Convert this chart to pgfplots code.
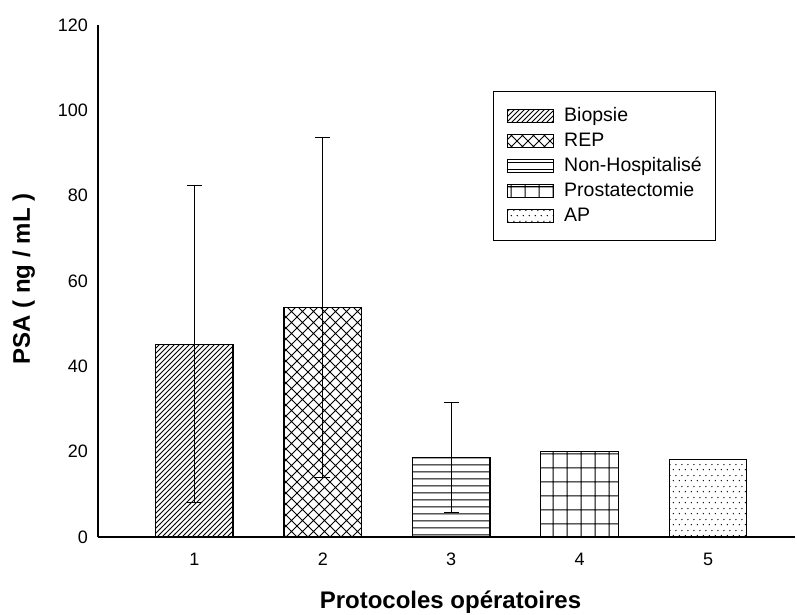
\documentclass[border=0pt]{standalone}
\usepackage{fontspec}
\setmainfont{Liberation Sans}
\usepackage{pgfplots}
\pgfplotsset{compat=1.18}
\usetikzlibrary{patterns}

% Fill patterns for the five operating protocols
\pgfdeclarepatternformonly{biopsie}{\pgfqpoint{-1pt}{-1pt}}{\pgfqpoint{6pt}{6pt}}{\pgfqpoint{5pt}{5pt}}{%
  \pgfsetlinewidth{0.8pt}%
  \pgfpathmoveto{\pgfqpoint{0pt}{0pt}}%
  \pgfpathlineto{\pgfqpoint{5.1pt}{5.1pt}}%
  \pgfusepath{stroke}}
\pgfdeclarepatternformonly{rep}{\pgfqpoint{-1pt}{-1pt}}{\pgfqpoint{12pt}{12pt}}{\pgfqpoint{11pt}{11pt}}{%
  \pgfsetlinewidth{1pt}%
  \pgfpathmoveto{\pgfqpoint{0pt}{0pt}}%
  \pgfpathlineto{\pgfqpoint{11.1pt}{11.1pt}}%
  \pgfpathmoveto{\pgfqpoint{0pt}{11pt}}%
  \pgfpathlineto{\pgfqpoint{11.1pt}{-0.1pt}}%
  \pgfusepath{stroke}}
\pgfdeclarepatternformonly{nonhosp}{\pgfqpoint{0pt}{0pt}}{\pgfqpoint{100pt}{7pt}}{\pgfqpoint{100pt}{7pt}}{%
  \pgfsetlinewidth{1.1pt}%
  \pgfpathmoveto{\pgfqpoint{-1pt}{3.5pt}}%
  \pgfpathlineto{\pgfqpoint{101pt}{3.5pt}}%
  \pgfusepath{stroke}}
\pgfdeclarepatternformonly{prost}{\pgfqpoint{0pt}{0pt}}{\pgfqpoint{14pt}{14pt}}{\pgfqpoint{14pt}{14pt}}{%
  \pgfsetlinewidth{1.1pt}%
  \pgfpathmoveto{\pgfqpoint{-1pt}{7.5pt}}%
  \pgfpathlineto{\pgfqpoint{15pt}{7.5pt}}%
  \pgfpathmoveto{\pgfqpoint{7.5pt}{-1pt}}%
  \pgfpathlineto{\pgfqpoint{7.5pt}{15pt}}%
  \pgfusepath{stroke}}
\pgfdeclarepatternformonly{ap}{\pgfqpoint{0pt}{0pt}}{\pgfqpoint{6pt}{11pt}}{\pgfqpoint{6pt}{11pt}}{%
  \pgfpathcircle{\pgfqpoint{1.5pt}{2.5pt}}{0.8pt}%
  \pgfpathcircle{\pgfqpoint{4.5pt}{8pt}}{0.8pt}%
  \pgfusepath{fill}}

\begin{document}
\begin{tikzpicture}
\useasboundingbox (-98pt,-77pt) rectangle (699pt,537pt);
\begin{axis}[
  scale only axis,
  width=697pt, height=512pt,
  xmin=0.25, xmax=5.677,
  ymin=0, ymax=120,
  axis x line=bottom, axis y line=left,
  axis line style={-, line width=1.2pt},
  xtick={1,2,3,4,5},
  ytick={0,20,40,60,80,100,120},
  major tick length=0pt,
  /pgf/number format/assume math mode=true,
  tick label style={font=\fontsize{18}{21}\selectfont},
  x tick label style={inner sep=0pt, anchor=base, yshift=-28pt},
  y tick label style={inner sep=0pt, anchor=east, xshift=-10pt},
  xlabel={Protocoles opératoires},
  ylabel={PSA ( ng / mL )},
  every axis x label/.style={at={(axis description cs:0.5,0)}, anchor=base,
    yshift=-71pt, xshift=4pt, font=\fontsize{24}{28}\selectfont\bfseries},
  every axis y label/.style={at={(axis description cs:0,0.5)}, xshift=-68pt,
    yshift=2pt, anchor=base, rotate=90,
    font=\fontsize{24}{28}\selectfont\bfseries},
  legend cell align=left,
  legend image code/.code={\draw[#1] (0pt,-6.5pt) rectangle (46pt,6.5pt);},
  legend style={at={(0.5667,0.871)}, anchor=north west, draw=black,
    line width=1pt, inner xsep=13.5pt, inner ysep=15.5pt, row sep=7pt,
    column sep=10pt,
    font=\fontsize{19.5}{23}\selectfont,
    nodes={inner sep=0pt, text height=14pt, text depth=4pt}},
  bar width=77.5pt,
  error bars/error bar style={line width=1.2pt, black},
  error bars/error mark options={rotate=90, mark size=7.5pt, line width=1.2pt, black},
]
\addplot[ybar, bar shift=0pt, draw=black, line width=1.2pt, pattern=biopsie,
  error bars/.cd, y dir=both, y explicit]
  coordinates {(1,45.2) +- (0,37.1)};
\addlegendentry{Biopsie}
\addplot[ybar, bar shift=0pt, draw=black, line width=1.2pt, pattern=rep,
  error bars/.cd, y dir=both, y explicit]
  coordinates {(2,53.8) +- (0,39.9)};
\addlegendentry{REP}
\addplot[ybar, bar shift=0pt, draw=black, line width=1.2pt, pattern=nonhosp,
  error bars/.cd, y dir=both, y explicit]
  coordinates {(3,18.7) +- (0,12.9)};
\addlegendentry{Non-Hospitalisé}
\addplot[ybar, bar shift=0pt, draw=black, line width=1.2pt, pattern=prost]
  coordinates {(4,20.0)};
\addlegendentry{Prostatectomie}
\addplot[ybar, bar shift=0pt, draw=black, line width=1.2pt, pattern=ap]
  coordinates {(5,18.1)};
\addlegendentry{AP}
\end{axis}
\end{tikzpicture}
\end{document}
